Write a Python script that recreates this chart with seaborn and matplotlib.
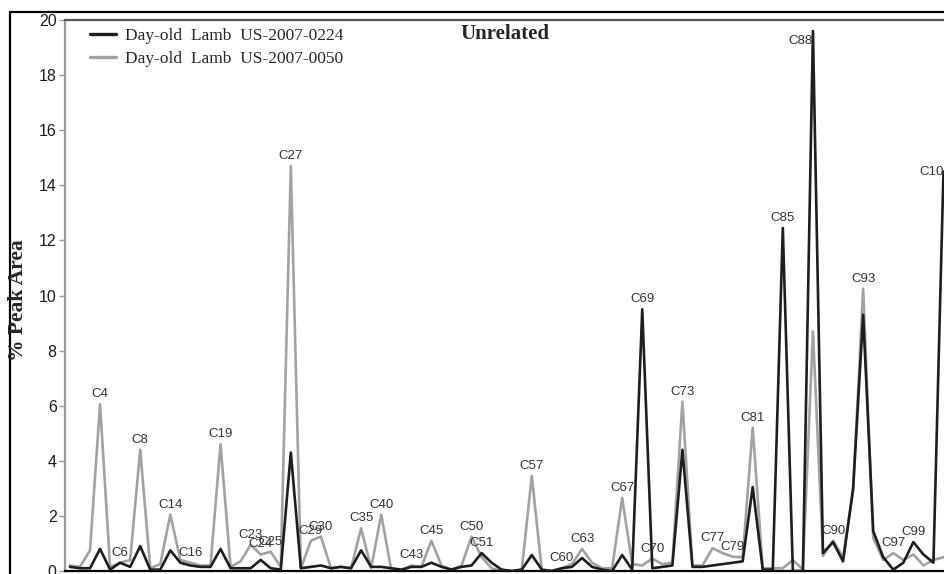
import numpy as np
import pandas as pd
import seaborn as sns
import matplotlib.pyplot as plt
from matplotlib.patches import Rectangle

# % peak area per chromatogram position (only labelled peaks are named)
lamb_0224 = [0.15, 0.1, 0.1, 0.8, 0.05, 0.3, 0.15, 0.9, 0.05, 0.05,
             0.75, 0.3, 0.2, 0.15, 0.15, 0.8, 0.1, 0.1, 0.1, 0.4,
             0.1, 0.05, 4.3, 0.1, 0.15, 0.2, 0.1, 0.15, 0.1, 0.75,
             0.15, 0.15, 0.1, 0.05, 0.15, 0.15, 0.3, 0.15, 0.05, 0.15,
             0.2, 0.65, 0.3, 0.05, 0.0, 0.05, 0.58, 0.05, 0.0, 0.1,
             0.15, 0.47, 0.15, 0.05, 0.0, 0.58, 0.05, 9.5, 0.1, 0.15,
             0.2, 4.4, 0.15, 0.15, 0.2, 0.25, 0.3, 0.35, 3.05, 0.05,
             0.05, 12.45, 0.0, 0.0, 19.6, 0.65, 1.05, 0.35, 3.0, 9.3,
             1.45, 0.5, 0.05, 0.3, 1.05, 0.6, 0.3, 14.5]
lamb_0050 = [0.2, 0.15, 0.75, 6.05, 0.15, 0.3, 0.4, 4.4, 0.1, 0.25,
             2.05, 0.4, 0.3, 0.2, 0.2, 4.6, 0.15, 0.35, 0.95, 0.6,
             0.7, 0.15, 14.7, 0.1, 1.1, 1.25, 0.1, 0.15, 0.1, 1.55,
             0.1, 2.05, 0.05, 0.0, 0.2, 0.15, 1.1, 0.2, 0.05, 0.2,
             1.25, 0.5, 0.1, 0.0, 0.0, 0.05, 3.45, 0.0, 0.0, 0.1,
             0.25, 0.8, 0.3, 0.1, 0.1, 2.65, 0.25, 0.2, 0.45, 0.25,
             0.3, 6.15, 0.2, 0.2, 0.83, 0.65, 0.52, 0.5, 5.2, 0.1,
             0.1, 0.1, 0.4, 0.05, 8.7, 0.55, 1.1, 0.5, 2.9, 10.25,
             1.2, 0.4, 0.65, 0.4, 0.6, 0.2, 0.4, 0.5]

peak_pos = [3, 5, 7, 10, 12, 15, 18, 19, 20, 22, 24, 25, 29, 31, 34, 36, 40, 41,
            46, 49, 51, 55, 57, 58, 61, 64, 66, 68, 71, 74, 76, 79, 82, 84, 87]
peak_names = ["C4", "C6", "C8", "C14", "C16", "C19", "C23", "C24", "C25", "C27",
              "C29", "C30", "C35", "C40", "C43", "C45", "C50", "C51", "C57", "C60",
              "C63", "C67", "C69", "C70", "C73", "C77", "C79", "C81", "C85", "C88",
              "C90", "C93", "C97", "C99", "C104"]

name_a = "Day-old  Lamb  US-2007-0224"
name_b = "Day-old  Lamb  US-2007-0050"

n = len(lamb_0224)
df = pd.DataFrame({
    "pos": list(range(n)) * 2,
    "area": lamb_0224 + lamb_0050,
    "sample": [name_a] * n + [name_b] * n,
})

sns.set_style("ticks")
plt.rcParams["font.family"] = ["Liberation Sans", "DejaVu Sans"]

fig = plt.figure(figsize=(9.44, 5.74), dpi=100)
ax = fig.add_axes([65 / 944, 3 / 574, 908.6 / 944, 551 / 574])

sns.lineplot(data=df, x="pos", y="area", hue="sample", hue_order=[name_a, name_b],
             palette={name_a: "#1e1e1e", name_b: "#a2a2a2"}, linewidth=1.9, ax=ax)
ax.lines[0].set_zorder(3)

ax.set_xlim(-0.49, 90)
ax.set_ylim(0, 20)
ax.set_yticks(np.arange(0, 21, 2))
ax.set_xticks([])
ax.set_xlabel("")
ax.set_ylabel("")
ax.tick_params(axis="y", direction="out", length=4, width=1, color="#999999",
               labelsize=11.5, labelcolor="#1a1a1a", pad=2)

ax.spines["left"].set_color("#9a9a9a")
ax.spines["left"].set_linewidth(1.6)
ax.spines["top"].set_visible(True)
ax.spines["top"].set_color("#555555")
ax.spines["top"].set_linewidth(1.6)
ax.spines["bottom"].set_color("#000000")
ax.spines["bottom"].set_linewidth(1.6)
ax.spines["right"].set_visible(False)

# peak labels
special = {"C88": ("right", "top", 0, -4), "C104": ("center", "center", -8, 0)}
for p, name in zip(peak_pos, peak_names):
    top = max(lamb_0224[p], lamb_0050[p])
    ha, va, dx, dy = special.get(name, ("center", "bottom", 0, 4))
    ax.annotate(name, (p, top), xytext=(dx, dy), textcoords="offset pixels",
                ha=ha, va=va, fontsize=9.5, color="#333333",
                annotation_clip=False)

leg = ax.legend(loc="upper left", bbox_to_anchor=(0.0275, 0.986), frameon=False,
                borderpad=0, borderaxespad=0, handlelength=1.5, handletextpad=0.5,
                labelspacing=0.42, prop={"family": "Liberation Serif", "size": 12.5})
for line in leg.get_lines():
    line.set_linewidth(2.4)

fig.text(505 / 944, 1 - 34 / 574, "Unrelated", ha="center", va="center",
         family="Liberation Serif", fontweight="bold", fontsize=15)
fig.text(18 / 944, 1 - 300 / 574, "% Peak Area", ha="center", va="center",
         rotation=90, family="Liberation Serif", fontweight="bold", fontsize=15.5)

# outer frame of the original panel
fig.patches.append(Rectangle((10 / 944, -0.5), 2.0, 0.5 + 1 - 12 / 574,
                             transform=fig.transFigure, fill=False,
                             edgecolor="black", linewidth=1.6))

fig.savefig("out.png", dpi=100)
